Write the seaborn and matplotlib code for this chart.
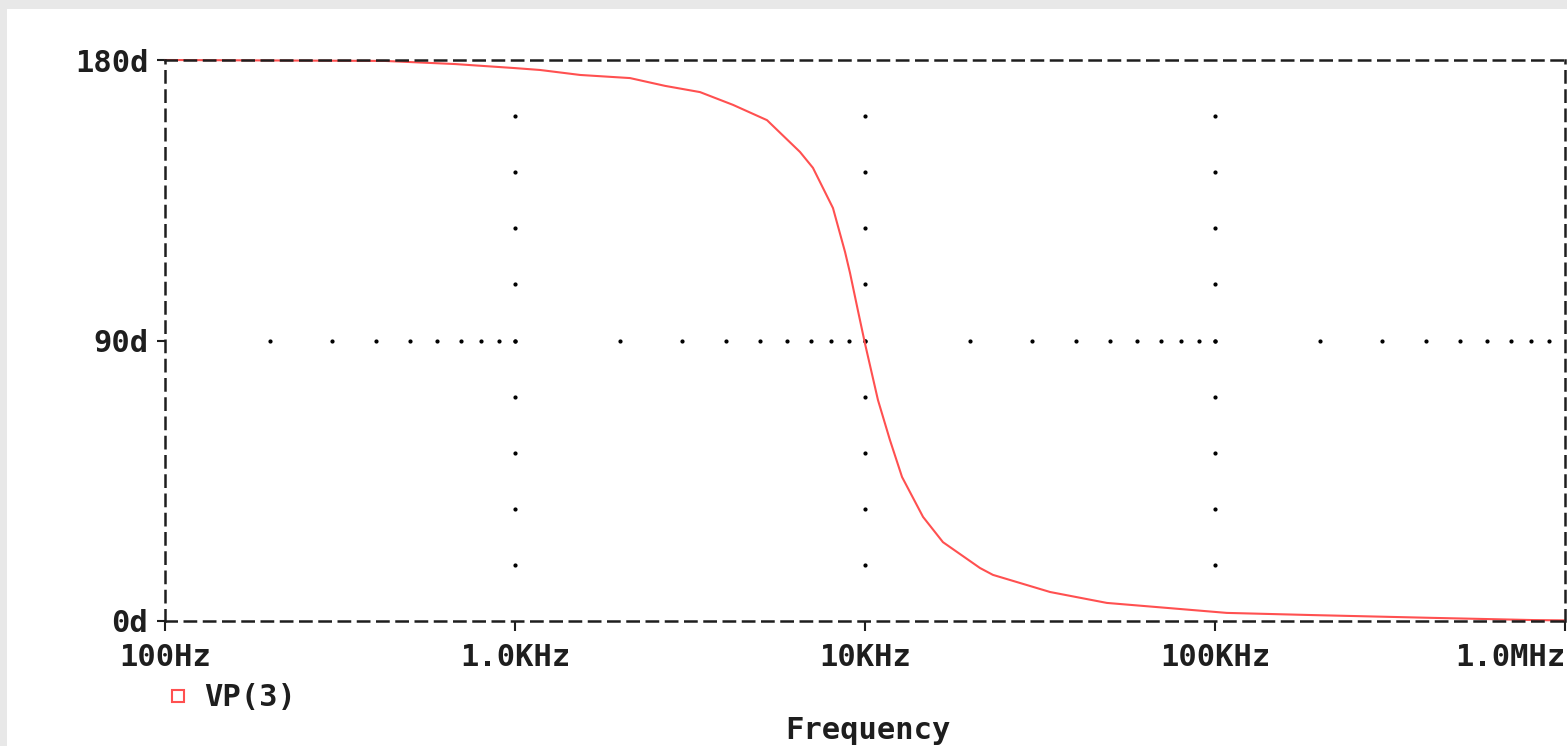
import numpy as np
import seaborn as sns
import matplotlib.pyplot as plt
from matplotlib.lines import Line2D
from matplotlib.patches import Rectangle

# phase response (Hz, degrees)
freq = [100, 425, 674, 1000, 1179, 1535, 2131, 2683, 3378, 4197, 5248, 6520,
        7100, 8100, 8770, 9060, 9550, 10000, 10890, 11780, 12760, 14650, 16700,
        21310, 23200, 33800, 49100, 72900, 108000, 190000, 420000, 811000, 1000000]
phase = [180.0, 179.7, 178.7, 177.4, 176.8, 175.2, 174.2, 171.7, 169.7, 165.6,
         160.7, 150.5, 145.4, 132.5, 118.4, 111.7, 99.5, 89.0, 70.9, 58.1, 46.2,
         33.4, 25.3, 17.0, 14.8, 9.3, 5.8, 4.2, 2.6, 1.9, 1.0, 0.3, 0.2]

x_ticks = [100, 1e3, 1e4, 1e5, 1e6]
x_labels = ["100Hz", "1.0KHz", "10KHz", "100KHz", "1.0MHz"]
y_ticks = [0, 90, 180]
y_labels = ["0d", "90d", "180d"]
trace_name = "VP(3)"

sns.set_style("white")
plt.rcParams['font.family'] = ['DejaVu Sans Mono', 'DejaVu Sans']
plt.rcParams['font.weight'] = 'bold'

red = '#ff5050'
ink = '#1e1e1e'
fs = 22
W, H = 1567, 746
fig = plt.figure(figsize=(W / 100, H / 100), dpi=100, facecolor='#e8e8e8')
fig.patches.append(Rectangle((7 / W, 0), 1, 1 - 9 / H, transform=fig.transFigure,
                             facecolor='white', edgecolor='none', zorder=-10))
ax = fig.add_axes([165 / W, 1 - 621 / H, 1400 / W, 561 / H])
ax.set_facecolor('white')

sns.lineplot(x=freq, y=phase, ax=ax, color=red, linewidth=1.5, clip_on=False, legend=False)
ax.set_xscale('log')
ax.set_xlim(100, 1e6)
ax.set_ylim(0, 180)

# dotted grid: points at major/minor intersections
minor_x = [m * d for d in [100, 1e3, 1e4, 1e5] for m in range(2, 10)] + [1e3, 1e4, 1e5]
minor_y = list(range(18, 180, 18))
gx = [x for x in [1e3, 1e4, 1e5] for _ in minor_y] + minor_x
gy = [y for _ in [1e3, 1e4, 1e5] for y in minor_y] + [90] * len(minor_x)
ax.plot(gx, gy, linestyle='none', marker='o', markersize=2, color='black', zorder=1)

for s in ax.spines.values():
    s.set_visible(True)
    s.set_color(ink)
    s.set_linewidth(1.8)
    s.set_linestyle((0, (4.5, 3.2)))

ax.set_xticks(x_ticks)
ax.set_xticklabels(x_labels)
ax.xaxis.set_minor_locator(plt.NullLocator())
ax.set_yticks(y_ticks)
ax.set_yticklabels(y_labels)
ax.tick_params(axis='x', direction='out', length=7, width=1.5, color=ink, labelcolor=ink,
               labelsize=fs, pad=9, bottom=True)
ax.tick_params(axis='y', direction='out', length=6, width=1.5, color=ink, labelcolor=ink,
               labelsize=fs, pad=6, left=True)
ax.get_xticklabels()[-1].set_horizontalalignment('right')

ax.set_xlabel("Frequency", fontsize=fs, fontweight='bold', color=ink)
ax.xaxis.set_label_coords(0.502, -0.17)
ax.set_ylabel("")

handle = Line2D([], [], linestyle='none', marker='s', markersize=8,
                markerfacecolor='white', markeredgecolor=red, markeredgewidth=1.5)
leg = fig.legend([handle], [trace_name], loc='center left', bbox_to_anchor=(163 / W, 1 - 698 / H),
                 frameon=False, borderpad=0, borderaxespad=0, handlelength=1, handletextpad=0.35,
                 prop={'size': fs, 'weight': 'bold'})
for t in leg.get_texts():
    t.set_color(ink)

fig.savefig("out.png", dpi=100, facecolor=fig.get_facecolor())
